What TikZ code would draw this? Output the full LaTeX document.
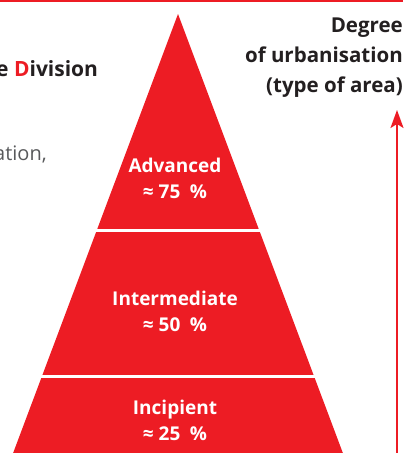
\documentclass[tikz,border=0pt]{standalone}
\usepackage{fontspec}
\setmainfont{Open Sans}
\usetikzlibrary{arrows.meta}
\definecolor{pyrred}{HTML}{ED1C24}
\definecolor{inkgray}{HTML}{231F20}
\definecolor{textgray}{HTML}{58595B}
\tikzset{
	level/.style={text=white, font=\bfseries\fontsize{19}{26}\selectfont, align=center, inner sep=0pt},
}

\begin{document}
\begin{tikzpicture}[x=1pt, y=-1pt]
			%%%%% START %%%%%
			\useasboundingbox (0, 0) rectangle (406, 453);
			
			\draw[pyrred, line width=2pt] (0, 1) -- (403, 1);
			
			% heading and body text running in from the left
			\node[anchor=base west, inner sep=0pt, text=inkgray, font=\bfseries\fontsize{21}{22}\selectfont] (divhead) at (-4, 76) {e \textcolor{pyrred}{D}ivision};
			\node[anchor=base west, inner sep=0pt, text=textgray, font=\fontsize{20}{22}\selectfont] (bodyline) at (-6, 160) {ation,};
			
			% pyramid, cut into three levels by white gaps
			\fill[pyrred] (178, 14) -- (12, 456) -- (344, 456) -- cycle;
			\draw[white, line width=3pt] (30, 230) -- (330, 230);
			\draw[white, line width=3pt] (20, 376) -- (340, 376);
			
			\node[level] (advanced) at (175, 178) {Advanced\\≈ 75\enspace\%};
			\node[level] (intermediate) at (175, 311) {Intermediate\\≈ 50\enspace\%};
			\node[level] (incipient) at (175, 420) {Incipient\\≈ 25\enspace\%};
			
			% axis on the right
			\node[anchor=north east, align=right, inner sep=0pt, text=inkgray, font=\bfseries\fontsize{20.5}{30}\selectfont] (axislabel) at (403, 18) {Degree\\of urbanisation\\(type of area)};
			\coordinate (arrowfoot) at (397, 455);
			\coordinate (arrowtip) at (397, 110);
			\draw[pyrred, line width=2pt, -{Stealth[length=18pt, width=13pt, inset=4pt]}] (arrowfoot) -- (arrowtip);
			
			%%%%% END %%%%%
\end{tikzpicture}
\end{document}
